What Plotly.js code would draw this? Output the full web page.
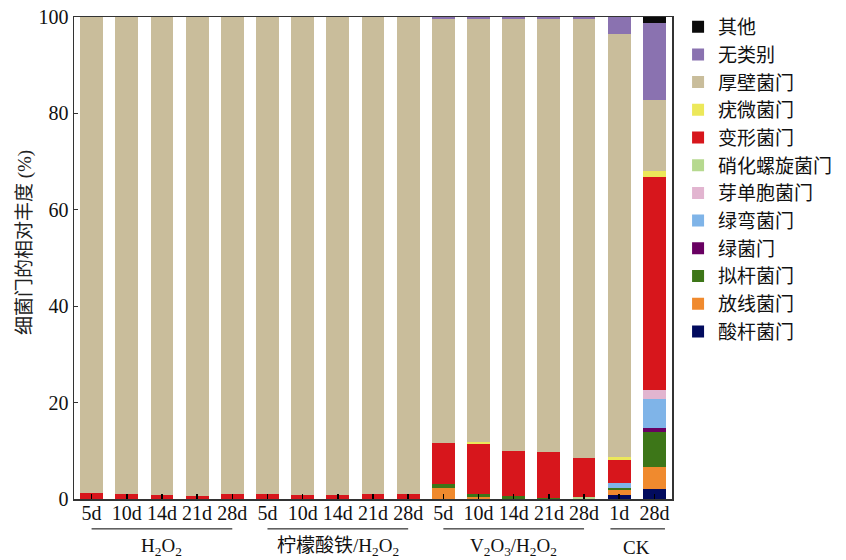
<!DOCTYPE html>
<html>
<head>
<meta charset="utf-8">
<script src="https://cdn.plot.ly/plotly-3.0.1.min.js"></script>
<style>
  html, body { margin: 0; padding: 0; background: #ffffff; }
  #chart { width: 846px; height: 560px; }
</style>
</head>
<body>
<div id="chart"></div>
<script>
// Sampling days for each bar, left to right
const days = ['5d', '10d', '14d', '21d', '28d',
              '5d', '10d', '14d', '21d', '28d',
              '5d', '10d', '14d', '21d', '28d',
              '1d', '28d'];

// Treatment groups: label, first bar index, last bar index
const groupLabels = ['H<sub>2</sub>O<sub>2</sub>',
                     '柠檬酸铁/H<sub>2</sub>O<sub>2</sub>',
                     'V<sub>2</sub>O<sub>3</sub>/H<sub>2</sub>O<sub>2</sub>',
                     'CK'];
const groupStart = [0, 5, 10, 15];
const groupEnd   = [4, 9, 14, 16];

// Relative abundance (%) of each phylum, one value per bar
const acidobacteria     = [0, 0, 0, 0, 0,   0, 0, 0, 0, 0,   0, 0, 0, 0, 0,        0.85, 2.0];
const actinobacteria    = [0, 0, 0, 0, 0,   0, 0, 0, 0, 0,   2.35, 0.4, 0, 0, 0,   1.1, 4.7];
const bacteroidetes     = [0, 0, 0, 0, 0,   0, 0, 0, 0, 0,   0.8, 0.6, 0.55, 0.2, 0, 0.35, 7.3];
const chlorobi          = [0, 0, 0, 0, 0,   0, 0, 0, 0, 0,   0, 0, 0, 0, 0,        0, 0.75];
const chloroflexi       = [0, 0, 0, 0, 0,   0, 0, 0, 0, 0,   0, 0, 0, 0, 0,        1.1, 6.0];
const gemmatimonadetes  = [0, 0, 0, 0, 0,   0, 0, 0, 0, 0,   0, 0, 0, 0, 0,        0, 1.9];
const nitrospirae       = [0, 0, 0, 0, 0,   0, 0, 0, 0, 0,   0, 0, 0, 0, 0.4,      0, 0];
const proteobacteria    = [1.3, 1.0, 0.75, 0.6, 1.0,   1.1, 0.75, 0.75, 1.0, 1.0,
                           8.4, 10.4, 9.35, 9.5, 8.05,   4.6, 44.2];
const verrucomicrobia   = [0, 0, 0, 0, 0,   0, 0, 0, 0, 0,   0, 0.35, 0, 0, 0,     0.7, 1.2];
const firmicutes        = [98.7, 99.0, 99.25, 99.4, 99.0,   98.9, 99.25, 99.25, 99.0, 99.0,
                           87.95, 87.75, 89.6, 89.8, 91.05,   87.8, 14.75];
const unclassified      = [0, 0, 0, 0, 0,   0, 0, 0, 0, 0,   0.5, 0.5, 0.5, 0.5, 0.5,   3.5, 16.0];
const others            = [0, 0, 0, 0, 0,   0, 0, 0, 0, 0,   0, 0, 0, 0, 0,        0, 1.2];

// Stack order, bottom to top
const phylumNames  = ['酸杆菌门', '放线菌门', '拟杆菌门', '绿菌门', '绿弯菌门', '芽单胞菌门',
                      '硝化螺旋菌门', '变形菌门', '疣微菌门', '厚壁菌门', '无类别', '其他'];
const phylumValues = [acidobacteria, actinobacteria, bacteroidetes, chlorobi, chloroflexi,
                      gemmatimonadetes, nitrospirae, proteobacteria, verrucomicrobia,
                      firmicutes, unclassified, others];
const phylumColors = ['#020b5e', '#f08a2e', '#3d7618', '#690062', '#7fb4e8', '#e2b5d0',
                      '#b6d98f', '#d7161c', '#ece85a', '#c9bd9b', '#8a72b0', '#0a0a0a'];

const serif = '"Liberation Serif", "Times New Roman", "Noto Sans CJK SC", serif';
const xIndex = days.map((d, i) => i);

const traces = phylumNames.map((name, k) => ({
  type: 'bar',
  name: name,
  x: xIndex,
  y: phylumValues[k],
  width: 0.65,
  marker: { color: phylumColors[k], line: { width: 0 } },
  hoverinfo: 'name+y'
}));

// Underlines beneath each treatment group
const shapes = groupStart.map((s, i) => ({
  type: 'line',
  xref: 'x', yref: 'paper',
  x0: s - (i === 3 ? 0.25 : 0), x1: groupEnd[i] + (i === 3 ? 0.3 : 0),
  y0: -0.062, y1: -0.062,
  line: { color: '#000000', width: 1 }
}));

const annotations = groupLabels.map((t, i) => ({
  text: t,
  xref: 'x', yref: 'paper',
  x: (groupStart[i] + groupEnd[i]) / 2,
  y: -0.1,
  xanchor: 'center', yanchor: 'middle',
  showarrow: false,
  font: { family: serif, size: 19, color: '#111111' }
}));

// Vertical axis title, placed as a rotated label
annotations.push({
  text: '细菌门的相对丰度 (%)',
  xref: 'paper', yref: 'paper',
  x: -0.082, y: 0.533,
  xanchor: 'center', yanchor: 'middle',
  textangle: -90,
  showarrow: false,
  font: { family: serif, size: 19, color: '#222222' }
});

const layout = {
  width: 846,
  height: 560,
  margin: { l: 74, r: 174, t: 17, b: 61, autoexpand: false },
  paper_bgcolor: '#ffffff',
  plot_bgcolor: '#ffffff',
  barmode: 'stack',
  showlegend: true,
  legend: {
    xref: 'container', yref: 'container',
    x: 0.8015, y: 0.986,
    xanchor: 'left', yanchor: 'top',
    maxheight: 540,
    font: { family: serif, size: 19, color: '#111111' },
    itemwidth: 30,
    bgcolor: 'rgba(0,0,0,0)'
  },
  xaxis: {
    range: [-0.5, 16.5],
    tickmode: 'array',
    tickvals: xIndex,
    ticktext: days,
    ticks: 'inside',
    ticklen: 5,
    tickwidth: 1.5,
    tickcolor: '#000000',
    ticklabelstandoff: -5,
    showline: true,
    linecolor: '#333333',
    linewidth: 1.5,
    mirror: true,
    showgrid: false,
    zeroline: false,
    tickfont: { family: serif, size: 20, color: '#111111' }
  },
  yaxis: {
    range: [0, 100],
    tickmode: 'array',
    tickvals: [0, 20, 40, 60, 80, 100],
    ticks: 'inside',
    ticklen: 4,
    tickcolor: '#333333',
    showline: true,
    linecolor: '#333333',
    linewidth: 1.5,
    mirror: true,
    showgrid: false,
    zeroline: false,
    tickfont: { family: serif, size: 20, color: '#111111' }
  },
  shapes: shapes,
  annotations: annotations
};

Plotly.newPlot('chart', traces, layout, { displayModeBar: false, staticPlot: true });
</script>
</body>
</html>
